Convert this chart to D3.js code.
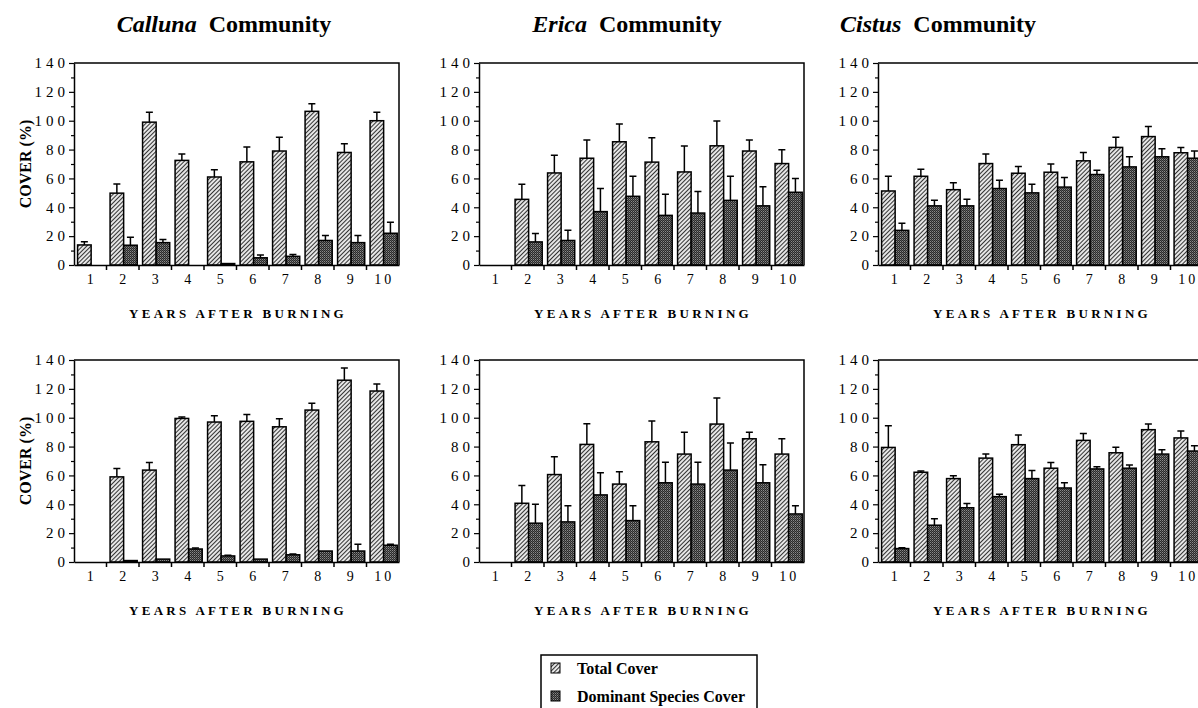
<!DOCTYPE html>
<html>
  <head>
    <meta charset="utf-8">
    <title>Cover after burning</title>
    <script src="https://cdn.jsdelivr.net/npm/d3@7"></script>
    <style>
      body { margin: 0; background: #fff; }
      svg { display: block; }
      svg text { font-family: "Liberation Serif", "Times New Roman", Times, "DejaVu Serif", serif !important; fill: #000; }
    </style>
  </head>

  <body>
    <svg id="chart" width="1198" height="708"></svg>

    <script>
      // data
      const years = [1, 2, 3, 4, 5, 6, 7, 8, 9, 10];
      const yTicks = [0, 20, 40, 60, 80, 100, 120, 140];
      const yMinorTicks = [10, 30, 50, 70, 90, 110, 130];
      const communities = ["Calluna", "Erica", "Cistus"];

      // top row
      const callunaTopTotal = [13.9, 49.8, 99, 72.5, 61, 71.5, 79, 106.5, 78, 100];
      const callunaTopTotalSE = [2.3, 6.4, 6.8, 4.5, 5, 10.2, 9.6, 5.3, 6, 5.8];
      const callunaTopDominant = [null, 13.7, 15.5, null, 1, 5, 6, 17, 15.5, 22];
      const callunaTopDominantSE = [null, 5.5, 2.1, null, 0, 2, 1.2, 3.4, 4.9, 7.6];

      const ericaTopTotal = [null, 45.5, 63.8, 74, 85.4, 71.3, 64.5, 82.6, 79, 70.3];
      const ericaTopTotalSE = [null, 10.5, 12.2, 12.6, 12.3, 16.9, 17.9, 17.2, 7.6, 9.6];
      const ericaTopDominant = [null, 16, 17, 37, 47.6, 34.4, 36, 44.8, 41, 50.4];
      const ericaTopDominantSE = [null, 5.8, 7, 16, 13.9, 14.6, 15, 16.7, 13.3, 9.6];

      const cistusTopTotal = [51.3, 61.5, 52.2, 70.3, 63.6, 64.3, 72.2, 81.5, 89, 77.8];
      const cistusTopTotalSE = [10.2, 4.9, 4.8, 6.6, 4.7, 5.7, 5.8, 7, 7, 3.7];
      const cistusTopDominant = [24, 41, 41, 53, 50, 54, 62.7, 68, 75, 74];
      const cistusTopDominantSE = [5, 3.8, 4.5, 5.7, 6, 6.6, 3, 7, 5.6, 5];

      // bottom row
      const callunaBottomTotal = [null, 59, 63.7, 99.5, 97, 97.5, 93.7, 105.3, 126, 118.5];
      const callunaBottomTotalSE = [null, 5.8, 5.3, 1, 4.4, 4.8, 5.6, 4.7, 8.5, 4.9];
      const callunaBottomDominant = [null, 1, 2, 9, 4.2, 2, 5, 7.6, 7.6, 11.6];
      const callunaBottomDominantSE = [null, 0, 0, 0.7, 0.4, 0, 0.5, 0, 4.7, 0.7];

      const ericaBottomTotal = [null, 40.7, 60.6, 81.5, 54, 83.3, 74.8, 95.6, 85.4, 74.8];
      const ericaBottomTotalSE = [null, 12.3, 12.4, 14.3, 8.5, 14.4, 15.2, 18.1, 4.6, 10.6];
      const ericaBottomDominant = [null, 26.9, 27.8, 46.5, 28.7, 54.9, 54, 63.7, 54.9, 33.3];
      const ericaBottomDominantSE = [null, 13.1, 11.2, 15.3, 10.3, 14.3, 15.2, 18.7, 12.5, 5.7];

      const cistusBottomTotal = [79.4, 62.2, 57.8, 72, 81.3, 65, 84.3, 75.7, 91.7, 86];
      const cistusBottomTotalSE = [15.1, 0.8, 1.9, 2.8, 6.7, 4, 4.7, 3.9, 4, 4.8];
      const cistusBottomDominant = [9.3, 25.5, 37.6, 45.3, 57.8, 51.3, 64.5, 65, 74.8, 76.9];
      const cistusBottomDominantSE = [0.5, 4.5, 3, 1.7, 5.6, 3.7, 1.5, 2.3, 3, 3.7];

      const panels = [
        {row: 0, col: 0, total: callunaTopTotal, totalSE: callunaTopTotalSE, dom: callunaTopDominant, domSE: callunaTopDominantSE},
        {row: 0, col: 1, total: ericaTopTotal, totalSE: ericaTopTotalSE, dom: ericaTopDominant, domSE: ericaTopDominantSE},
        {row: 0, col: 2, total: cistusTopTotal, totalSE: cistusTopTotalSE, dom: cistusTopDominant, domSE: cistusTopDominantSE},
        {row: 1, col: 0, total: callunaBottomTotal, totalSE: callunaBottomTotalSE, dom: callunaBottomDominant, domSE: callunaBottomDominantSE},
        {row: 1, col: 1, total: ericaBottomTotal, totalSE: ericaBottomTotalSE, dom: ericaBottomDominant, domSE: ericaBottomDominantSE},
        {row: 1, col: 2, total: cistusBottomTotal, totalSE: cistusBottomTotalSE, dom: cistusBottomDominant, domSE: cistusBottomDominantSE}
      ];

      // layout
      const colX = [74, 479, 878];
      const rowY = [63, 360];
      const titleX = [224, 627, 938];
      const panelW = 325;
      const panelH = 202;
      const serif = "'Liberation Serif', 'Times New Roman', Times, 'DejaVu Serif', serif";

      const chart = d3.select("#chart");

      // fill patterns
      const defs = chart.append("defs");
      const hatch = defs.append("pattern")
        .attr("id", "hatch")
        .attr("patternUnits", "userSpaceOnUse")
        .attr("width", 3).attr("height", 3)
        .attr("patternTransform", "rotate(45)");
      hatch.append("rect").attr("width", 3).attr("height", 3).attr("fill", "#e6e6e6");
      hatch.append("line")
        .attr("x1", 0.5).attr("y1", 0).attr("x2", 0.5).attr("y2", 3)
        .attr("stroke", "#333").attr("stroke-width", 1);

      const dark = defs.append("pattern")
        .attr("id", "dark")
        .attr("patternUnits", "userSpaceOnUse")
        .attr("width", 2).attr("height", 2);
      dark.append("rect").attr("width", 2).attr("height", 2).attr("fill", "#2a2a2a");
      dark.append("rect").attr("width", 1).attr("height", 1).attr("fill", "#8a8a8a");
      dark.append("rect").attr("x", 1).attr("y", 1).attr("width", 1).attr("height", 1).attr("fill", "#5a5a5a");

      // titles
      communities.forEach(function(name, i) {
        const t = chart.append("text")
          .attr("x", titleX[i])
          .attr("y", 32)
          .attr("text-anchor", "middle")
          .attr("font-family", serif)
          .style("font-size", "24px")
          .style("font-weight", "bold");
        t.append("tspan").style("font-style", "italic").text(name);
        t.append("tspan").text("\u00a0 Community");
      });

      const y = d3.scaleLinear().domain([0, 140]);
      const x = d3.scaleBand().domain(years).range([0, panelW]).padding(0);
      const bw = x.bandwidth();
      const sub = d3.scaleBand().domain(["total", "dom"]).range([bw * 0.11, bw * 0.945]).padding(0);

      panels.forEach(function(p) {
        const g = chart.append("g")
          .attr("transform", "translate(" + colX[p.col] + "," + rowY[p.row] + ")");
        y.range([panelH, 0]);

        // frame (top and right)
        g.append("path")
          .attr("d", "M0,0H" + panelW + "V" + panelH)
          .attr("fill", "none").attr("stroke", "#000").attr("stroke-width", 1.5);

        // bars
        const series = [
          {key: "total", vals: p.total, se: p.totalSE, fill: "url(#hatch)"},
          {key: "dom", vals: p.dom, se: p.domSE, fill: "url(#dark)"}
        ];
        series.forEach(function(s) {
          const rows = years.map(function(yr, i) {
            return {year: yr, v: s.vals[i], se: s.se[i]};
          }).filter(function(d) { return d.v != null; });

          g.selectAll(".bar-" + s.key)
            .data(rows)
            .enter().append("rect")
              .attr("x", function(d) { return x(d.year) + sub(s.key); })
              .attr("y", function(d) { return y(d.v); })
              .attr("width", sub.bandwidth())
              .attr("height", function(d) { return panelH - y(d.v); })
              .attr("fill", s.fill)
              .attr("stroke", "#000")
              .attr("stroke-width", 1.5);

          const err = rows.filter(function(d) { return d.se > 0; });
          g.selectAll(".err-" + s.key)
            .data(err)
            .enter().append("path")
              .attr("d", function(d) {
                const cx = x(d.year) + sub(s.key) + sub.bandwidth() / 2;
                const y0 = y(d.v), y1 = y(d.v + d.se);
                return "M" + cx + "," + y0 + "V" + y1 + "M" + (cx - 3.5) + "," + y1 + "H" + (cx + 3.5);
              })
              .attr("fill", "none")
              .attr("stroke", "#000")
              .attr("stroke-width", 1.5);
        });

        // y axis
        const yAxis = g.append("g")
          .call(d3.axisLeft(y).tickValues(yTicks).tickSize(5).tickPadding(0).tickSizeOuter(0));
        g.append("g")
          .call(d3.axisLeft(y).tickValues(yMinorTicks).tickSize(3).tickFormat("").tickSizeOuter(0))
          .select(".domain").remove();
        yAxis.attr("font-family", serif);
        yAxis.selectAll("text")
          .style("font-size", "15px")
          .style("letter-spacing", "4px");

        // x axis
        const xAxis = g.append("g")
          .attr("transform", "translate(0," + panelH + ")")
          .call(d3.axisBottom(x).tickSize(0).tickPadding(9).tickSizeOuter(0));
        xAxis.attr("font-family", serif);
        xAxis.selectAll("text")
          .attr("dx", "1.5px")
          .style("font-size", "14px")
          .style("letter-spacing", "3px");
        g.append("g")
          .attr("transform", "translate(0," + panelH + ")")
          .selectAll("line")
          .data(years.slice(1))
          .enter().append("line")
            .attr("x1", function(d) { return x(d); })
            .attr("x2", function(d) { return x(d); })
            .attr("y1", 0).attr("y2", 5)
            .attr("stroke", "#000").attr("stroke-width", 1.5);

        g.selectAll(".domain").attr("stroke-width", 1.5);
        g.selectAll(".tick line").attr("stroke-width", 1.2);

        g.append("text")
          .attr("x", panelW / 2 + 1.5)
          .attr("y", panelH + 53)
          .attr("text-anchor", "middle")
          .attr("font-family", serif)
          .style("font-size", "13px")
          .style("font-weight", "bold")
          .style("letter-spacing", "3.3px")
          .text("YEARS AFTER BURNING");

        if (p.col === 0) {
          g.append("text")
            .attr("transform", "translate(-43," + (panelH / 2) + ") rotate(-90)")
            .attr("text-anchor", "middle")
            .attr("font-family", serif)
            .style("font-size", "16px")
            .style("font-weight", "bold")
            .text("COVER (%)");
        }
      });

      // legend
      const legend = chart.append("g").attr("transform", "translate(541,655)");
      legend.append("rect")
        .attr("width", 216).attr("height", 60)
        .attr("fill", "#fff").attr("stroke", "#000").attr("stroke-width", 1.5);
      const legendItems = [
        {label: "Total Cover", fill: "url(#hatch)"},
        {label: "Dominant Species Cover", fill: "url(#dark)"}
      ];
      legend.selectAll(".item")
        .data(legendItems)
        .enter().append("g")
          .attr("transform", function(d, i) { return "translate(0," + (i * 28) + ")"; })
          .each(function(d) {
            const item = d3.select(this);
            item.append("rect")
              .attr("x", 10).attr("y", 8).attr("width", 9).attr("height", 10)
              .attr("fill", d.fill).attr("stroke", "#000").attr("stroke-width", 1);
            item.append("text")
              .attr("x", 36).attr("y", 19)
              .attr("font-family", serif)
              .style("font-size", "16px")
              .style("font-weight", "bold")
              .text(d.label);
          });
    </script>
  </body>
</html>
